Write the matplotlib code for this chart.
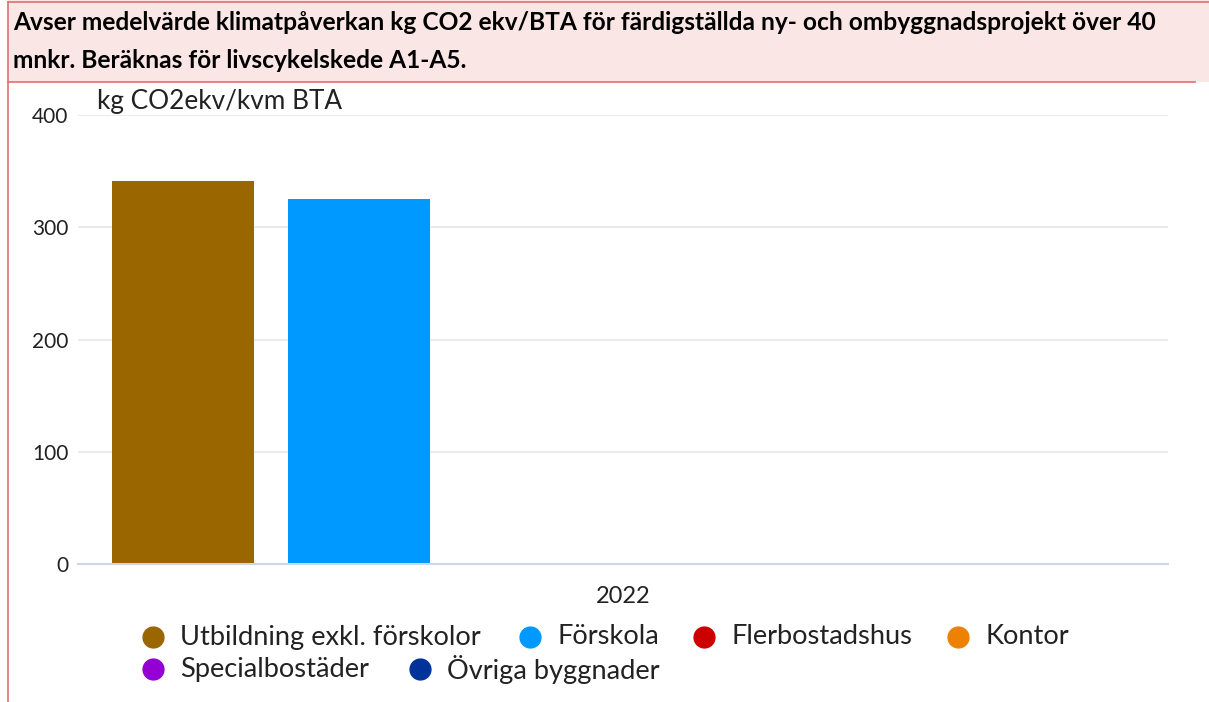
import matplotlib
matplotlib.use("Agg")
import matplotlib.pyplot as plt
from matplotlib.lines import Line2D
from matplotlib.patches import Rectangle
import numpy as np

plt.rcParams['font.family'] = ['Lato', 'DejaVu Sans']

categories = ["2022"]
series_names = ["Utbildning exkl. förskolor", "Förskola", "Flerbostadshus",
                "Kontor", "Specialbostäder", "Övriga byggnader"]
series_values = [341, 325, np.nan, np.nan, np.nan, np.nan]
series_colors = ["#9a6600", "#0099ff", "#cc0000", "#ee8200", "#9400d3", "#003399"]
yticks = [0, 100, 200, 300, 400]
title_lines = ["Avser medelvärde klimatpåverkan kg CO2 ekv/BTA för färdigställda ny- och ombyggnadsprojekt över 40",
               "mnkr. Beräknas för livscykelskede A1-A5."]
y_title = "kg CO2ekv/kvm BTA"

W, H = 1209, 702
fig = plt.figure(figsize=(W / 100, H / 100), dpi=100)
renderer = fig.canvas.get_renderer()


def fit_text(t, target_px):
    w = t.get_window_extent(renderer).width
    t.set_fontsize(t.get_fontsize() * target_px / w)


# title box
fig.add_artist(Rectangle((8 / W, 1 - 82 / H), (W - 8) / W, 82 / H, transform=fig.transFigure,
                         facecolor="#fbe6e6", edgecolor="none", zorder=0))
fig.add_artist(Line2D([8 / W, 1195 / W], [1 - 82 / H, 1 - 82 / H], transform=fig.transFigure,
                      color="#e07070", lw=1.2))
fig.add_artist(Line2D([8 / W, 8 / W], [0, 1 - 2 / H], transform=fig.transFigure,
                      color="#e07070", lw=1.2))
fig.add_artist(Line2D([8 / W, 1], [1 - 1.5 / H, 1 - 1.5 / H], transform=fig.transFigure,
                      color="#e07070", lw=1.2))
t1 = fig.text(13 / W, 1 - 23 / H, title_lines[0], fontsize=15, fontweight="bold",
              va="center", ha="left", color="black")
fit_text(t1, 1148)
fig.text(13 / W, 1 - 61 / H, title_lines[1], fontsize=t1.get_fontsize(), fontweight="bold",
         va="center", ha="left", color="black")

ax = fig.add_axes([78 / W, 1 - 564 / H, (1168 - 78) / W, (564 - 115) / H])
n = len(series_names)
step = 0.1615
width = 0.1303
x = np.arange(len(categories))
for i, (name, val, col) in enumerate(zip(series_names, series_values, series_colors)):
    ax.bar(x + (i - (n - 1) / 2) * step, [val], width=width, color=col, zorder=3)

ax.set_xlim(-0.5, 0.5)
ax.set_ylim(0, 400)
ax.set_yticks(yticks)
ax.set_xticks(x)
ax.set_xticklabels(categories, fontsize=17, color="#222222")
ax.tick_params(axis="x", length=0, pad=16)
ax.tick_params(axis="y", length=0, pad=7, labelsize=15, labelcolor="#222222")
ax.grid(axis="y", color="#e6e6e6", lw=1.2, zorder=0)
for s in ["top", "right", "left"]:
    ax.spines[s].set_visible(False)
ax.spines["bottom"].set_color("#ccd6eb")
ax.spines["bottom"].set_linewidth(1.5)
ax.spines["bottom"].set_zorder(4)

ty = fig.text(97 / W, 1 - 101 / H, y_title, fontsize=18, color="#222222", va="center", ha="left")
fit_text(ty, 244)

# legend
leg_marker_x = [153, 530, 704, 958, 153, 420]
leg_y = [637, 637, 637, 637, 669, 669]
leg_texts = []
for name, col, mx, my in zip(series_names, series_colors, leg_marker_x, leg_y):
    fig.add_artist(Line2D([mx / W], [1 - my / H], transform=fig.transFigure, marker="o",
                          markersize=15, color=col, linestyle="none"))
    leg_texts.append(fig.text((mx + 27) / W, 1 - my / H, name, fontsize=18, color="#222222",
                              va="center", ha="left"))
fit_text(leg_texts[0], 301)
for t in leg_texts[1:]:
    t.set_fontsize(leg_texts[0].get_fontsize())

fig.savefig("out.png", dpi=100)
